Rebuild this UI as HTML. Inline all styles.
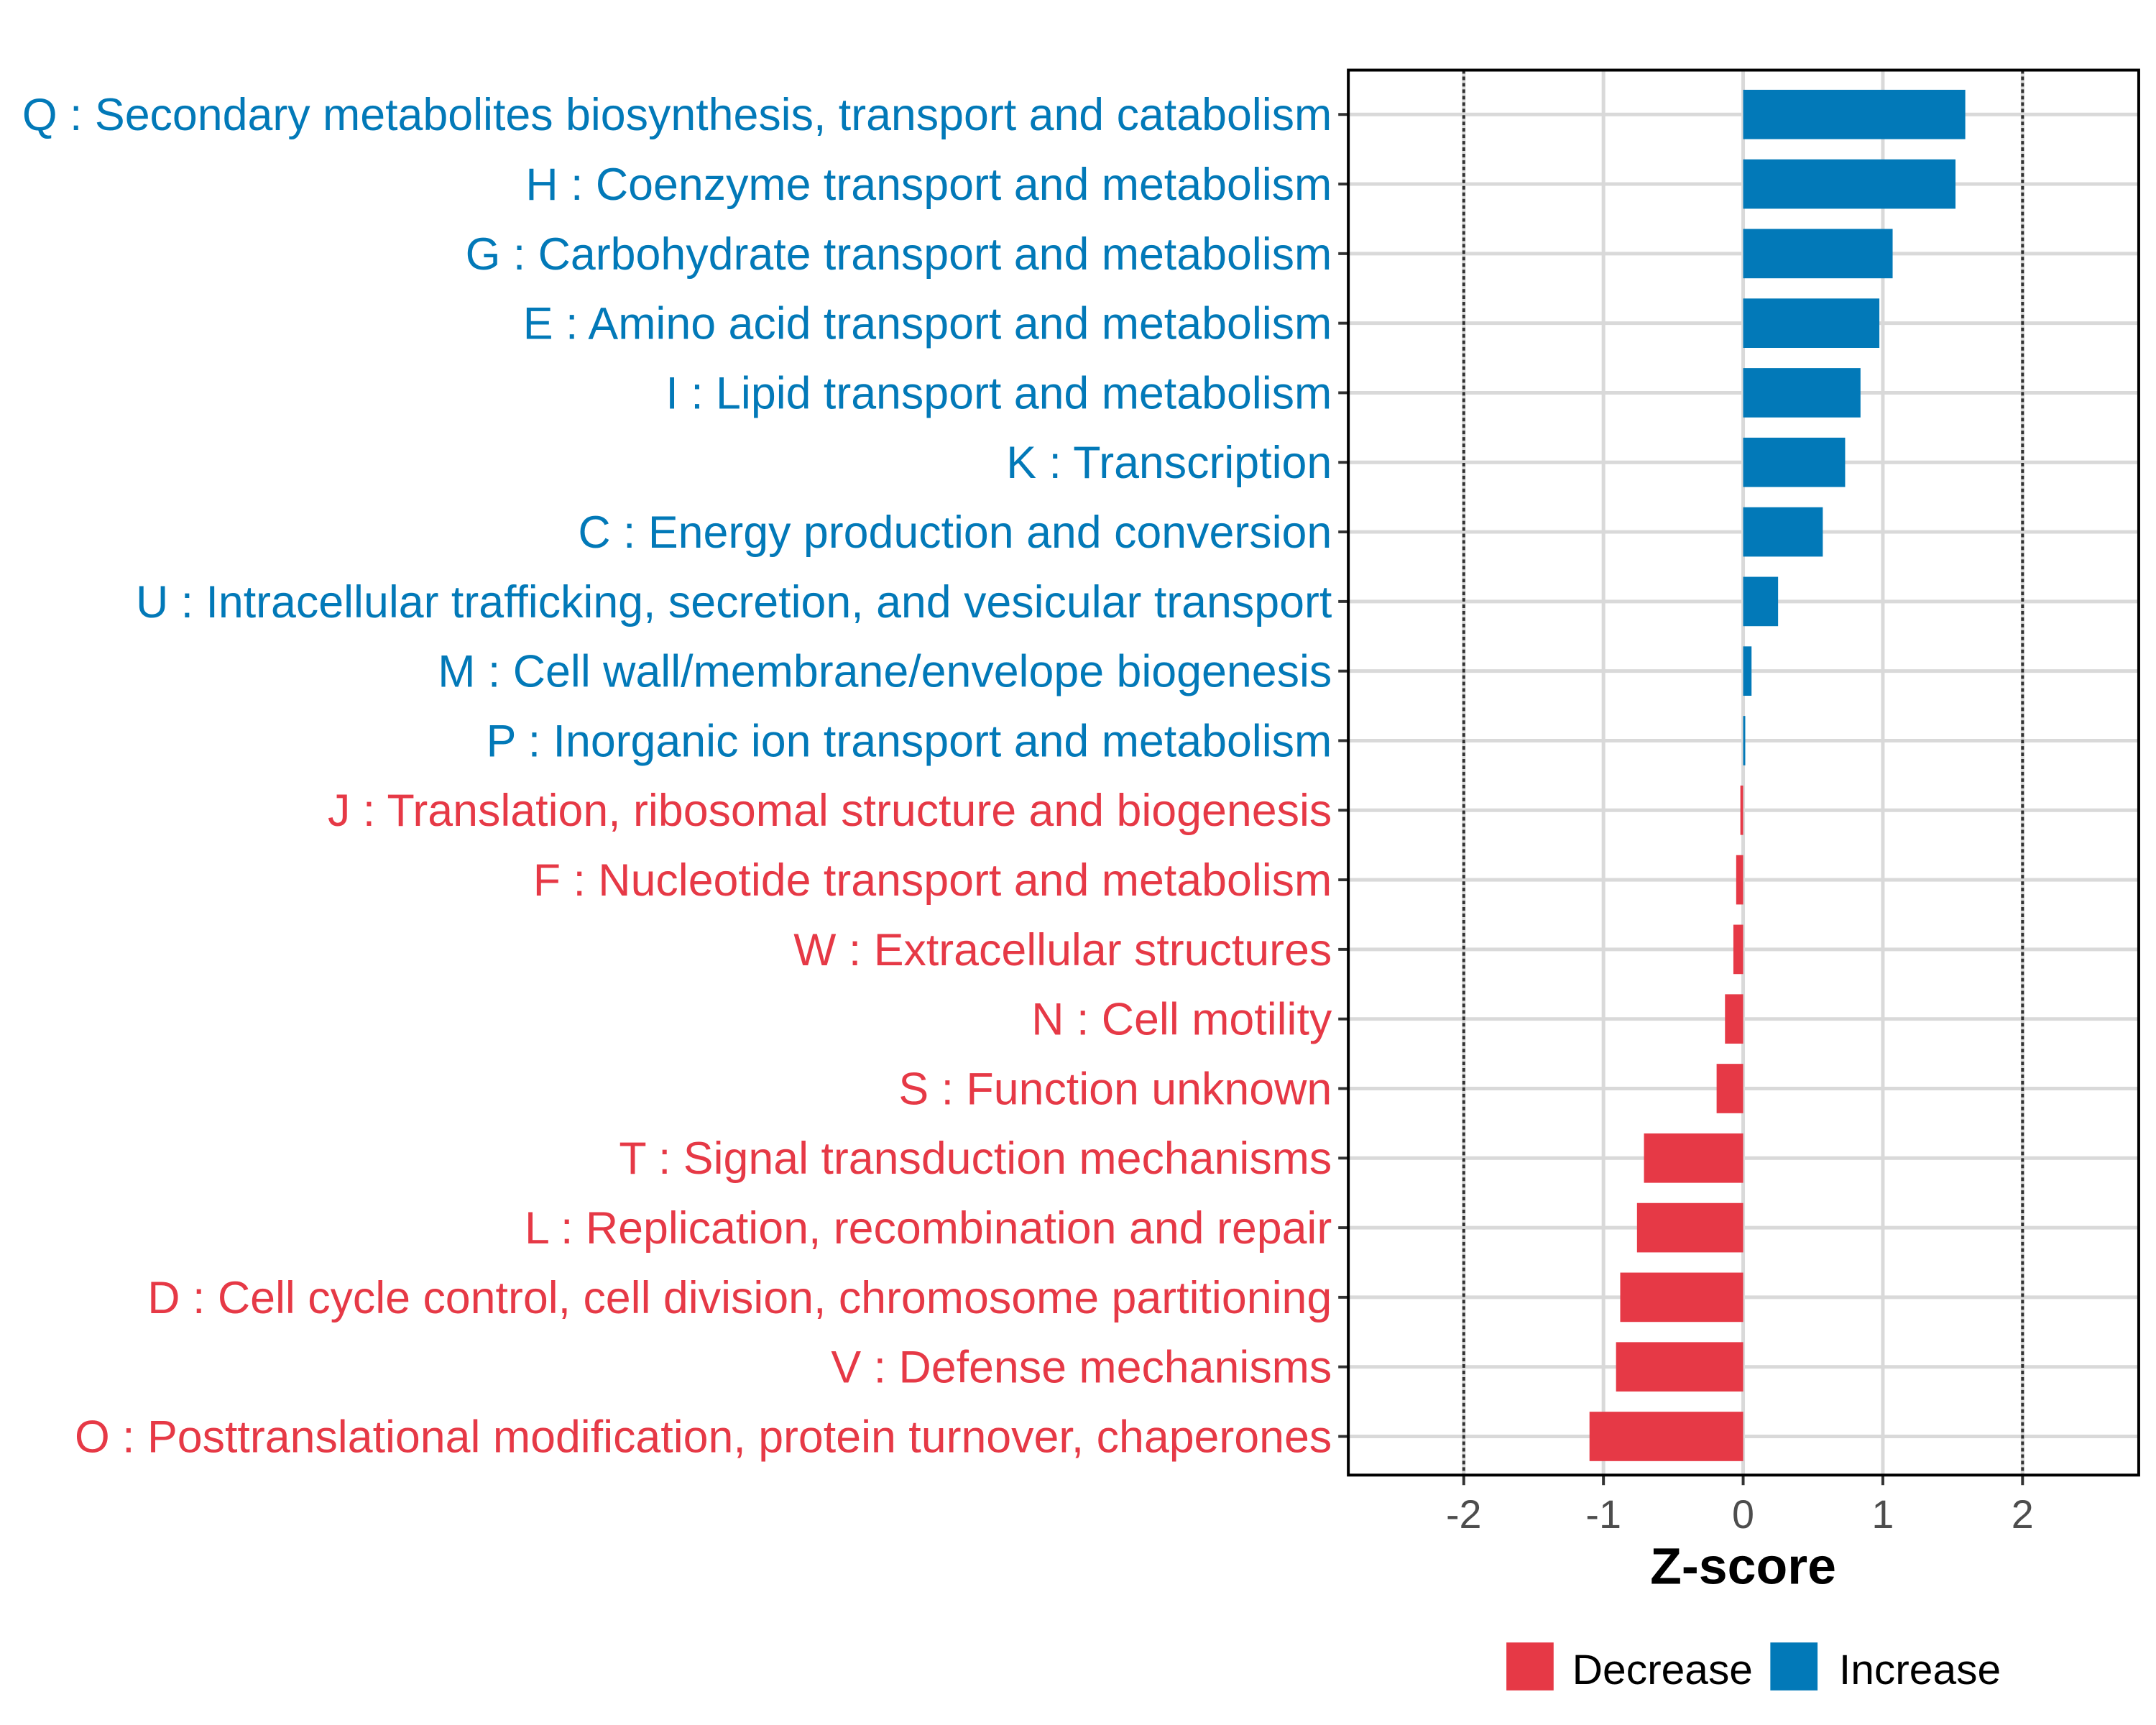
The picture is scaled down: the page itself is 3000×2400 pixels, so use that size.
<!DOCTYPE html>
<html><head><meta charset="utf-8"><style>html,body{margin:0;padding:0;background:#fff}svg{display:block}</style></head>
<body>
<svg id="chart" width="3000" height="2400" viewBox="0 0 3000 2400" xmlns="http://www.w3.org/2000/svg" font-family="Liberation Sans, Arial, sans-serif">
<g transform="scale(0.9953)">
<g id="grid"></g>
<g id="bars"></g>
<g id="ylabels"></g>
<g id="xaxis"></g>
<rect x="1885" y="98" width="1105" height="1964" fill="none" stroke="#000" stroke-width="4"/>
<text x="2437" y="2214" text-anchor="middle" font-size="72" font-weight="bold" fill="#000">Z-score</text>
<g>
<rect x="2106" y="2296" width="66" height="67" fill="#E63946"/>
<text x="2198" y="2354" font-size="59" fill="#000">Decrease</text>
<rect x="2475" y="2296" width="66" height="67" fill="#0279B8"/>
<text x="2571" y="2354" font-size="59" fill="#000">Increase</text>
</g>
</g>
</svg>
<script>
const categories = ["Q : Secondary metabolites biosynthesis, transport and catabolism","H : Coenzyme transport and metabolism","G : Carbohydrate transport and metabolism","E : Amino acid transport and metabolism","I : Lipid transport and metabolism","K : Transcription","C : Energy production and conversion","U : Intracellular trafficking, secretion, and vesicular transport","M : Cell wall/membrane/envelope biogenesis","P : Inorganic ion transport and metabolism","J : Translation, ribosomal structure and biogenesis","F : Nucleotide transport and metabolism","W : Extracellular structures","N : Cell motility","S : Function unknown","T : Signal transduction mechanisms","L : Replication, recombination and repair","D : Cell cycle control, cell division, chromosome partitioning","V : Defense mechanisms","O : Posttranslational modification, protein turnover, chaperones"];
const zscores = [1.59,1.52,1.07,0.975,0.84,0.73,0.57,0.25,0.06,0.015,-0.02,-0.05,-0.07,-0.13,-0.19,-0.71,-0.76,-0.88,-0.91,-1.1];
const xTicks = [-2,-1,0,1,2];
const xTickLabels = ["-2","-1","0","1","2"];
const refLines = [-2,2];

const NS="http://www.w3.org/2000/svg";
const L=1885,R=2990,T=98,B=2062;
const xs = v => 2437 + v*195.3;
const ys = i => 160 + i*97.26;
const BLUE="#0279B8", RED="#E63946";
function mk(tag, attrs, parent){const e=document.createElementNS(NS,tag);for(const k in attrs)e.setAttribute(k,attrs[k]);parent.appendChild(e);return e;}
const grid=document.getElementById('grid'), bars=document.getElementById('bars'), yl=document.getElementById('ylabels'), xa=document.getElementById('xaxis');
xTicks.forEach((t,i)=>{
  const g=mk('line',{x1:xs(t),x2:xs(t),y1:T,y2:B,stroke:'#d9d9d9','stroke-width':5},grid);
  
  
  const tk=mk('line',{x1:xs(t),x2:xs(t),y1:B,y2:B+14,stroke:'#333','stroke-width':4},xa);
  
  
  const tx=mk('text',{x:xs(t),y:2136,'text-anchor':'middle','font-size':56,fill:'#4d4d4d'},xa);
  tx.textContent=xTickLabels[i];
  
  
});
categories.forEach((c,i)=>{
  const g=mk('line',{x1:L,x2:R,y1:ys(i),y2:ys(i),stroke:'#d9d9d9','stroke-width':5},grid);
  
  
});
refLines.forEach(v=>{
  const l=mk('line',{x1:xs(v),x2:xs(v),y1:T,y2:B,stroke:'#333','stroke-width':4,'stroke-dasharray':'5 4'},grid);
  
  
});
categories.forEach((c,i)=>{
  const v=zscores[i], col=v>=0?BLUE:RED, bh=69;
  const x0=Math.min(xs(0),xs(v)), w=Math.max(Math.abs(xs(v)-xs(0)),1);
  const b=mk('rect',{x:x0,y:ys(i)-bh/2,width:w,height:bh,fill:col},bars);
  
  
  const tk=mk('line',{x1:L-14,x2:L,y1:ys(i),y2:ys(i),stroke:'#333','stroke-width':4},yl);
  
  
  const t=mk('text',{x:1862,y:ys(i)+22,'text-anchor':'end','font-size':63,fill:col},yl);
  t.textContent=c;
  
  
});
</script>
</body></html>
